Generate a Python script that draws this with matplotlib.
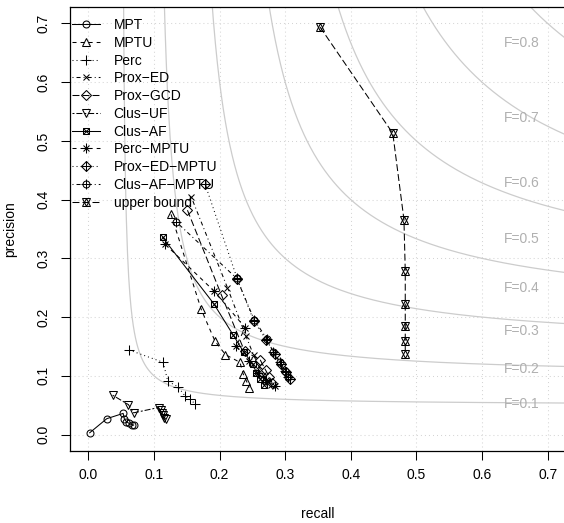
import matplotlib
matplotlib.use("Agg")
import matplotlib.pyplot as plt
import numpy as np
from matplotlib.legend_handler import HandlerTuple

plt.rcParams["font.family"] = ["Liberation Sans", "DejaVu Sans"]
plt.rcParams["font.size"] = 10
plt.rcParams["lines.scale_dashes"] = False

# recall / precision for each method (one point per threshold)
mpt_r = [0.002, 0.028, 0.053, 0.055, 0.058, 0.062, 0.066, 0.069]
mpt_p = [0.003, 0.027, 0.036, 0.026, 0.022, 0.019, 0.017, 0.016]

mptu_r = [0.126, 0.172, 0.193, 0.209, 0.231, 0.236, 0.241, 0.245]
mptu_p = [0.375, 0.213, 0.159, 0.136, 0.123, 0.103, 0.091, 0.080]

perc_r = [0.062, 0.114, 0.121, 0.137, 0.147, 0.155, 0.163]
perc_p = [0.144, 0.123, 0.091, 0.081, 0.066, 0.060, 0.052]

prox_ed_r = [0.157, 0.212, 0.240, 0.252, 0.260, 0.266, 0.272, 0.278]
prox_ed_p = [0.404, 0.250, 0.168, 0.135, 0.116, 0.101, 0.092, 0.085]

prox_gcd_r = [0.151, 0.203, 0.238, 0.262, 0.270, 0.276, 0.280]
prox_gcd_p = [0.382, 0.237, 0.142, 0.127, 0.110, 0.098, 0.088]

clus_uf_r = [0.037, 0.061, 0.069, 0.107, 0.110, 0.112, 0.114, 0.116, 0.118]
clus_uf_p = [0.067, 0.051, 0.037, 0.046, 0.041, 0.037, 0.033, 0.029, 0.026]

clus_af_r = [0.113, 0.191, 0.221, 0.237, 0.251, 0.256, 0.262, 0.268]
clus_af_p = [0.336, 0.223, 0.169, 0.140, 0.120, 0.105, 0.095, 0.085]

perc_mptu_r = [0.117, 0.191, 0.239, 0.225, 0.245, 0.258, 0.270, 0.284]
perc_mptu_p = [0.324, 0.245, 0.182, 0.150, 0.125, 0.105, 0.093, 0.083]

prox_ed_mptu_r = [0.178, 0.227, 0.252, 0.271, 0.284, 0.294, 0.301, 0.307]
prox_ed_mptu_p = [0.426, 0.265, 0.194, 0.161, 0.138, 0.120, 0.106, 0.095]

clus_af_mptu_r = [0.134, 0.226, 0.253, 0.272, 0.282, 0.292, 0.299, 0.305]
clus_af_mptu_p = [0.362, 0.266, 0.195, 0.163, 0.140, 0.123, 0.109, 0.098]

upper_r = [0.353, 0.464, 0.481, 0.483, 0.483, 0.483, 0.483, 0.483]
upper_p = [0.694, 0.513, 0.366, 0.278, 0.223, 0.185, 0.160, 0.138]

names = ["MPT", "MPTU", "Perc", "Prox\u2212ED", "Prox\u2212GCD", "Clus\u2212UF",
         "Clus\u2212AF", "Perc\u2212MPTU", "Prox\u2212ED\u2212MPTU",
         "Clus\u2212AF\u2212MPTU", "upper bound"]
recalls = [mpt_r, mptu_r, perc_r, prox_ed_r, prox_gcd_r, clus_uf_r,
           clus_af_r, perc_mptu_r, prox_ed_mptu_r, clus_af_mptu_r, upper_r]
precisions = [mpt_p, mptu_p, perc_p, prox_ed_p, prox_gcd_p, clus_uf_p,
              clus_af_p, perc_mptu_p, prox_ed_mptu_p, clus_af_mptu_p, upper_p]

f_levels = [0.1, 0.2, 0.3, 0.4, 0.5, 0.6, 0.7, 0.8, 0.9]
f_labels = [0.1, 0.2, 0.3, 0.4, 0.5, 0.6, 0.7, 0.8]

# R style line types, in points
solid = "-"
dashed = (0, (2.9, 2.9))
dotted = (0, (0.7, 2.2))
dotdash = (0, (0.7, 2.2, 2.9, 2.2))
longdash = (0, (5.0, 2.2))
twodash = (0, (1.4, 1.4, 4.3, 1.4))
ltys = [solid, dashed, dotted, dotdash, longdash, twodash,
        solid, dashed, dotted, dotdash, longdash]
# primary marker, overlay marker (R pch 1..11)
pchs = [("o", None), ("^", None), ("+", None), ("x", None), ("D", None),
        ("v", None), ("s", "x"), ("+", "x"), ("D", "+"), ("o", "+"), ("^", "v")]
msize = {"o": 5, "^": 6, "v": 6, "+": 6.5, "x": 5, "D": 5, "s": 5}

fig = plt.figure(figsize=(5.64, 5.23), dpi=100)
ax = fig.add_axes([70 / 564, 72 / 523, 496 / 564, 444 / 523])
ax.set_xlim(-0.028, 0.728)
ax.set_ylim(-0.028, 0.728)

ticks = np.arange(0, 0.71, 0.1)
for t in ticks:
    ax.axvline(t, color="#d3d3d3", lw=0.75, ls=(0, (0.7, 2.2)), zorder=0)
    ax.axhline(t, color="#d3d3d3", lw=0.75, ls=(0, (0.7, 2.2)), zorder=0)

for f in f_levels:
    r = np.linspace(f / 2 * 1.0005, 0.75, 800)
    ax.plot(r, f * r / (2 * r - f), color="#cccccc", lw=0.9, zorder=1)
for f in f_labels:
    ax.text(0.66, f / (2 - f), f"F={f}", color="#b0b0b0", ha="center",
            va="center", fontsize=10, zorder=1)

handles = []
for name, r, p, ls, (m1, m2) in zip(names, recalls, precisions, ltys, pchs):
    l1, = ax.plot(r, p, color="black", lw=0.75, ls=ls, marker=m1,
                  ms=msize[m1], mfc="none", mew=0.75, zorder=3)
    h = [l1]
    if m2 is not None:
        l2, = ax.plot(r, p, ls="none", color="black", marker=m2,
                      ms=msize[m2], mfc="none", mew=0.75, zorder=3)
        h.append(l2)
    handles.append(tuple(h))

ax.legend(handles, names, handler_map={tuple: HandlerTuple(ndivide=1, pad=0)},
          loc="upper left", bbox_to_anchor=(0.004, 0.975), frameon=False,
          borderaxespad=0, borderpad=0, handlelength=2.0, handletextpad=1.0,
          labelspacing=0.27, fontsize=10)

ax.set_xticks(ticks)
ax.set_yticks(ticks)
ax.set_xticklabels([f"{t:.1f}" for t in ticks])
ax.set_yticklabels([f"{t:.1f}" for t in ticks], rotation=90, va="center")
ax.tick_params(direction="out", length=6.2, width=0.75, pad=6, labelsize=10)
ax.tick_params(axis="y", pad=8)
for s in ax.spines.values():
    s.set_linewidth(0.9)
ax.set_xlabel("recall", fontsize=10, labelpad=18)
ax.set_ylabel("precision", fontsize=10, labelpad=14)

fig.savefig("out.png", dpi=100)
